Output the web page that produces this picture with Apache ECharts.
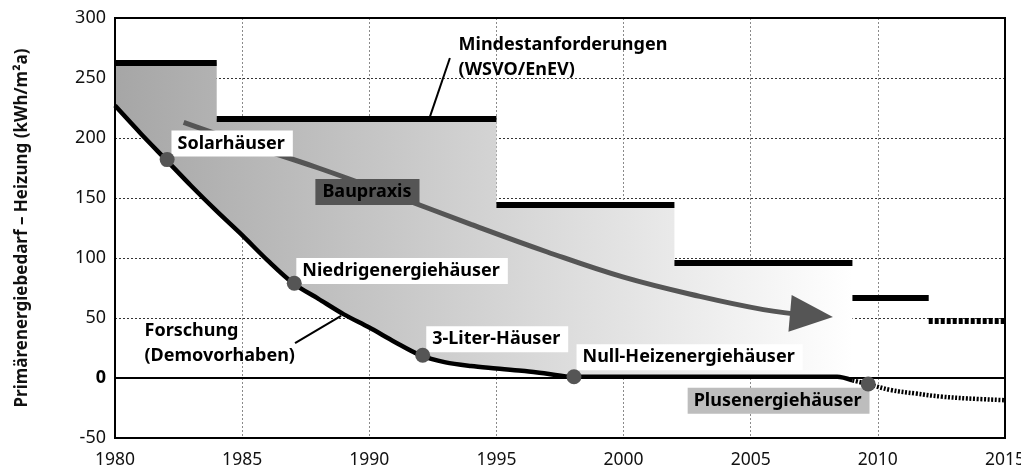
<!DOCTYPE html>
<html><head><meta charset="utf-8">
<script src="https://cdn.jsdelivr.net/npm/echarts@6/dist/echarts.min.js"></script>
<style>html,body{margin:0;padding:0;background:#fff}#c{width:1021px;height:473px}</style>
</head><body><div id="c"></div>
<script>
// ---- data ----
const xTicks = [1980, 1985, 1990, 1995, 2000, 2005, 2010, 2015];
const yTicks = [-50, 0, 50, 100, 150, 200, 250, 300];

// Mindestanforderungen (WSVO/EnEV) steps
const stepFrom  = [1980, 1984, 1995, 2002, 2009, 2012];
const stepTo    = [1984, 1995, 2002, 2009, 2012, 2015];
const stepValue = [263, 216, 144, 96, 67, 48];
const stepPlanned = [false, false, false, false, false, true];

// Forschung (Demovorhaben) curve, solid part
const forschungYears  = [1980, 1981, 1982, 1983, 1984, 1985, 1986, 1987, 1988, 1989, 1990, 1991, 1992, 1993, 1994, 1995, 1996, 1997, 1998, 2000, 2004, 2008.4, 2009];
const forschungValues = [227, 204, 182, 160, 139, 119, 98, 79, 66, 53, 42, 30, 19, 13, 10, 8, 6, 3.5, 1, 1, 1, 1, -2];
// Plusenergie continuation (dotted)
const plusYears  = [2009, 2009.6, 2010.5, 2011.5, 2012.5, 2013.5, 2015];
const plusValues = [-2, -5, -10, -13, -15.5, -17, -18.5];

// Milestones (dots)
const milestoneNames  = ['Solarhäuser', 'Niedrigenergiehäuser', '3-Liter-Häuser', 'Null-Heizenergiehäuser', 'Plusenergiehäuser'];
const milestoneYears  = [1982.05, 1987.05, 1992.1, 1998.05, 2009.62];
const milestoneValues = [182, 79, 19, 1, -5];

// Baupraxis trend arrow
const baupraxisYears  = [1982.7, 1985, 1988, 1991, 1994, 1997, 2000, 2003, 2005.5, 2007.3];
const baupraxisValues = [213, 196, 175, 152, 128, 105, 84, 68, 57, 52];

// ---- annotations ----
const labelTexts = ['Solarhäuser', 'Niedrigenergiehäuser', '3-Liter-Häuser', 'Null-Heizenergiehäuser', 'Plusenergiehäuser', 'Baupraxis', 'Mindestanforderungen\n(WSVO/EnEV)', 'Forschung\n(Demovorhaben)'];
const labelYears  = [1982.24, 1987.15, 1992.26, 1998.17, 2002.54, 1987.9, 1993.53, 1981.18];
const labelValues = [195, 88.8, 31.9, 16.8, -19.3, 154.6, 267.1, 28.3];
const labelKinds  = ['white', 'white', 'white', 'white', 'gray', 'dark', 'plain', 'plain'];
const leaderFrom = [[1993.17, 266.7], [1987.08, 29]];
const leaderTo   = [[1992.39, 218], [1988.89, 51.7]];
const arrowHeadYear = 2007.39, arrowHeadValue = 52.3;

const FONT = "'Noto Sans', 'DejaVu Sans', sans-serif";
const chart = echarts.init(document.getElementById('c'), null, {renderer: 'canvas'});

const pair = (xs, ys) => xs.map((x, i) => [x, ys[i]]);

const kindStyle = {
  white: {backgroundColor: '#ffffff', padding: [3, 8, 3, 6], lineHeight: 20},
  gray:  {backgroundColor: '#bdbdbd', padding: [3, 8, 3, 6], lineHeight: 20},
  dark:  {backgroundColor: '#555555', padding: [3, 8, 3, 7], lineHeight: 20},
  plain: {lineHeight: 25}
};

const option = {
  animation: false,
  grid: {left: 115, right: 16, top: 18, bottom: 35, outerBoundsMode: 'none', containLabel: false},
  xAxis: {
    type: 'value', min: xTicks[0], max: xTicks[xTicks.length - 1], interval: 5,
    axisLine: {show: false}, axisTick: {show: false},
    axisLabel: {fontFamily: FONT, fontSize: 17.5, color: '#111', margin: 13, formatter: v => String(v)},
    splitLine: {show: true, lineStyle: {color: '#8a8a8a', type: [2, 2], width: 1}}
  },
  yAxis: {
    type: 'value', min: yTicks[0], max: yTicks[yTicks.length - 1], interval: 50,
    name: 'Primärenergiebedarf – Heizung (kWh/m²a)',
    nameLocation: 'middle', nameRotate: 90, nameGap: 84,
    nameTextStyle: {fontFamily: FONT, fontSize: 17, fontWeight: 'bold', color: '#111'},
    axisLine: {show: false}, axisTick: {show: false},
    axisLabel: {
      fontFamily: FONT, fontSize: 18, color: '#111', margin: 9,
      formatter: v => v === 0 ? '{b|0}' : String(v),
      rich: {b: {fontFamily: FONT, fontSize: 18, fontWeight: 'bold', color: '#000'}}
    },
    splitLine: {show: true, lineStyle: {color: '#333', type: [2, 2], width: 1}}
  },
  series: [
    // shaded band between requirement steps and research curve
    {
      type: 'custom', z: 1, silent: true,
      data: [[1995, 100]],
      renderItem: function (params, api) {
        const pts = [];
        for (let i = 0; i < 4; i++) {
          pts.push(api.coord([stepFrom[i], stepValue[i]]));
          pts.push(api.coord([stepTo[i], stepValue[i]]));
        }
        for (let i = forschungYears.length - 1; i >= 0; i--) {
          pts.push(api.coord([forschungYears[i], forschungValues[i]]));
        }
        const x0 = api.coord([stepFrom[0], 0])[0];
        const x1 = api.coord([stepTo[3], 0])[0];
        return {
          type: 'polygon',
          shape: {points: pts},
          style: {
            fill: new echarts.graphic.LinearGradient(x0, 0, x1, 0, [
              {offset: 0, color: '#a6a6a6'},
              {offset: 1, color: '#ffffff'}
            ], true),
            stroke: null
          }
        };
      }
    },
    // zero line
    {
      type: 'custom', z: 2, silent: true,
      data: [[1995, 0]],
      renderItem: function (params, api) {
        const a = api.coord([xTicks[0], 0]);
        const b = api.coord([xTicks[xTicks.length - 1], 0]);
        return {type: 'line', shape: {x1: a[0], y1: a[1], x2: b[0], y2: b[1]},
                style: {stroke: '#000', lineWidth: 2}};
      }
    },
    // requirement steps
    {
      type: 'lines', coordinateSystem: 'cartesian2d', z: 4, silent: true,
      data: stepFrom.map((f, i) => ({
        coords: [[f, stepValue[i]], [stepTo[i], stepValue[i]]],
        lineStyle: stepPlanned[i] ? {type: [4, 2]} : {type: 'solid'}
      })),
      lineStyle: {color: '#000', width: 6, opacity: 1, cap: 'butt'}
    },
    // research curve
    {
      type: 'line', z: 4, silent: true, symbol: 'none', smooth: 0.3,
      data: pair(forschungYears, forschungValues),
      lineStyle: {color: '#000', width: 4.5}
    },
    {
      type: 'line', z: 4, silent: true, symbol: 'none', smooth: 0.4,
      data: pair(plusYears, plusValues),
      lineStyle: {color: '#000', width: 4.5, type: [2, 1.6]}
    },
    // Baupraxis arrow
    {
      type: 'line', z: 5, silent: true, symbol: 'none', smooth: 0.4,
      data: pair(baupraxisYears, baupraxisValues),
      lineStyle: {color: '#555', width: 5}
    },
    {
      type: 'scatter', z: 5, silent: true,
      data: [[arrowHeadYear, arrowHeadValue]],
      symbol: 'triangle', symbolSize: [37, 43], symbolRotate: -95,
      itemStyle: {color: '#555', opacity: 1}
    },
    // leader lines
    {
      type: 'lines', coordinateSystem: 'cartesian2d', z: 5, silent: true,
      data: leaderFrom.map((f, i) => ({coords: [f, leaderTo[i]]})),
      lineStyle: {color: '#000', width: 2, opacity: 1}
    },
    // labels
    {
      type: 'scatter', z: 6, silent: true, symbolSize: 1,
      itemStyle: {color: '#fff', opacity: 0},
      data: labelTexts.map((t, i) => ({
        value: [labelYears[i], labelValues[i]],
        label: Object.assign({
          show: true, formatter: t, position: [0, 0], align: 'left', verticalAlign: 'middle',
          fontFamily: FONT, fontSize: 18, fontWeight: 'bold', color: '#000', opacity: 1
        }, kindStyle[labelKinds[i]])
      }))
    },
    // milestone dots
    {
      type: 'scatter', z: 7, silent: true, name: 'Meilensteine',
      data: milestoneYears.map((x, i) => ({name: milestoneNames[i], value: [x, milestoneValues[i]]})),
      symbol: 'circle', symbolSize: 15,
      itemStyle: {color: '#555', opacity: 1}
    },
    // frame
    {
      type: 'custom', z: 10, silent: true,
      data: [[1995, 100]],
      renderItem: function (params, api) {
        const a = api.coord([xTicks[0], yTicks[yTicks.length - 1]]);
        const b = api.coord([xTicks[xTicks.length - 1], yTicks[0]]);
        return {type: 'rect', shape: {x: a[0], y: a[1], width: b[0] - a[0], height: b[1] - a[1]},
                style: {fill: null, stroke: '#000', lineWidth: 2}};
      }
    }
  ]
};
chart.setOption(option);
</script>
</body></html>
